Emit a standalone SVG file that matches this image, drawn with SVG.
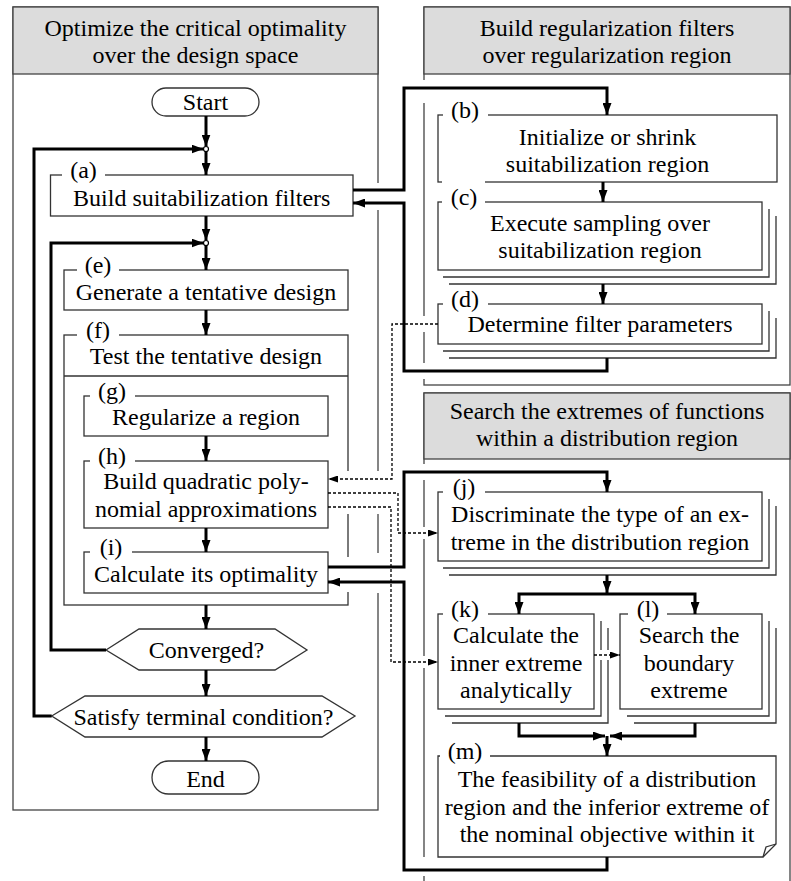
<svg xmlns="http://www.w3.org/2000/svg" width="791" height="881" viewBox="0 0 791 881">
<style>
.panel{fill:#fff;stroke:#444;stroke-width:1.3}
.hdr{fill:#dcdcdc;stroke:#444;stroke-width:1.3}
.box{fill:#fff;stroke:#333;stroke-width:1.3}
.stk{fill:none;stroke:#333;stroke-width:1.3}
.t{font-family:"Liberation Serif","Times New Roman",serif;font-size:24px;fill:#000;text-anchor:middle}
.bg{fill:#fff}
.thick{fill:none;stroke:#000;stroke-width:3}
.dot{fill:none;stroke:#000;stroke-width:1.3;stroke-dasharray:3 2}
.gap{stroke:#fff;stroke-width:4}
.jn{fill:#fff;stroke:#000;stroke-width:1.2}
</style>
<defs>
<marker id="ah" markerUnits="userSpaceOnUse" markerWidth="12" markerHeight="9" refX="12" refY="4.5" orient="auto"><path d="M0,0 L12,4.5 L0,9 Z" fill="#000"/></marker>
<marker id="ad" markerUnits="userSpaceOnUse" markerWidth="10" markerHeight="7" refX="10" refY="3.5" orient="auto"><path d="M0,0 L10,3.5 L0,7 Z" fill="#000"/></marker>
</defs>

<g id="panel-optimize">
<rect class="panel" x="13" y="7" width="365" height="803"/>
<rect class="hdr" x="13" y="7" width="365" height="67"/>
<text class="t" x="195.5" y="36">Optimize the critical optimality</text>
<text class="t" x="195.5" y="63">over the design space</text>
</g>
<g id="panel-regularization">
<rect class="panel" x="424" y="7" width="366" height="378"/>
<rect class="hdr" x="424" y="7" width="366" height="67"/>
<text class="t" x="607" y="36">Build regularization filters</text>
<text class="t" x="607" y="63">over regularization region</text>
</g>
<g id="panel-extremes">
<rect class="panel" x="424" y="393" width="366" height="520"/>
<rect class="hdr" x="424" y="393" width="366" height="66"/>
<text class="t" x="607" y="419">Search the extremes of functions</text>
<text class="t" x="607" y="446">within a distribution region</text>
</g>

<g id="start">
<rect class="box" x="152" y="88" width="107" height="28" rx="14"/>
<text class="t" x="205.5" y="110">Start</text>
</g>
<g id="node-a">
<rect class="box" x="50.5" y="175" width="302.5" height="41"/>
<rect class="bg" x="62" y="156" width="43" height="22"/>
<text class="t" x="83.5" y="177.5">(a)</text>
<text class="t" x="201.75" y="206">Build suitabilization filters</text>
</g>
<g id="node-e">
<rect class="box" x="64" y="270" width="284" height="40"/>
<rect class="bg" x="77" y="251" width="42" height="22"/>
<text class="t" x="98" y="272.5">(e)</text>
<text class="t" x="206" y="300">Generate a tentative design</text>
</g>
<g id="node-f">
<rect class="box" x="64" y="335" width="284" height="270"/>
<line class="stk" x1="64" y1="376" x2="348" y2="376"/>
<rect class="bg" x="77" y="316" width="42" height="22"/>
<text class="t" x="98" y="337.5">(f)</text>
<text class="t" x="206" y="364">Test the tentative design</text>
</g>
<g id="node-g">
<rect class="box" x="84" y="396" width="244" height="40"/>
<rect class="bg" x="90" y="377" width="45" height="22"/>
<text class="t" x="112" y="398.5">(g)</text>
<text class="t" x="206" y="425">Regularize a region</text>
</g>
<g id="node-h">
<rect class="box" x="84" y="461" width="244" height="67"/>
<rect class="bg" x="90" y="442" width="45" height="22"/>
<text class="t" x="112" y="463.5">(h)</text>
<text class="t" x="206" y="489">Build quadratic poly-</text>
<text class="t" x="206" y="516.5">nomial approximations</text>
</g>
<g id="node-i">
<rect class="box" x="84" y="552" width="244" height="41"/>
<rect class="bg" x="90" y="533" width="42" height="22"/>
<text class="t" x="111" y="554.5">(i)</text>
<text class="t" x="206" y="582">Calculate its optimality</text>
</g>
<g id="converged">
<polygon class="box" points="106,650 139,629 275,629 307,650 275,670 139,670"/>
<text class="t" x="206.5" y="658">Converged?</text>
</g>
<g id="terminal">
<polygon class="box" points="51.7,716 85,696 322,696 355,716 322,737 85,737"/>
<text class="t" x="203.4" y="725">Satisfy terminal condition?</text>
</g>
<g id="end">
<rect class="box" x="152" y="761" width="107" height="33" rx="16.5"/>
<text class="t" x="205.5" y="786.5">End</text>
</g>

<g id="node-b">
<rect class="box" x="438" y="115" width="339" height="67"/>
<rect class="bg" x="443" y="96" width="45" height="22"/>
<text class="t" x="465" y="117.5">(b)</text>
<text class="t" x="607.5" y="145">Initialize or shrink</text>
<text class="t" x="607.5" y="172">suitabilization region</text>
</g>
<g id="node-c">
<path class="stk" d="M449,284 H776 V216 M443,277 H769 V209"/>
<rect class="box" x="438" y="202" width="324" height="68"/>
<rect class="bg" x="442" y="179" width="43" height="26"/>
<text class="t" x="464" y="204.5">(c)</text>
<text class="t" x="600" y="231">Execute sampling over</text>
<text class="t" x="600" y="258">suitabilization region</text>
</g>
<g id="node-d">
<path class="stk" d="M449,358 H776 V318 M443,351 H769 V311"/>
<rect class="box" x="438" y="304" width="324" height="40"/>
<rect class="bg" x="443" y="285" width="45" height="22"/>
<text class="t" x="465" y="306.5">(d)</text>
<text class="t" x="600" y="332">Determine filter parameters</text>
</g>
<g id="node-j">
<path class="stk" d="M449,575 H776 V506 M443,568 H769 V499"/>
<rect class="box" x="438" y="492" width="324" height="69"/>
<rect class="bg" x="443" y="474" width="42" height="21"/>
<text class="t" x="464" y="494.5">(j)</text>
<text class="t" x="600" y="522">Discriminate the type of an ex-</text>
<text class="t" x="600" y="549.5">treme in the distribution region</text>
</g>
<g id="node-k">
<path class="stk" d="M452,723 H608 V628 M445,716 H601 V621"/>
<rect class="box" x="438" y="614" width="156" height="95"/>
<rect class="bg" x="443" y="595" width="45" height="22"/>
<text class="t" x="465" y="616.5">(k)</text>
<text class="t" x="516" y="643">Calculate the</text>
<text class="t" x="516" y="670.5">inner extreme</text>
<text class="t" x="516" y="698">analytically</text>
</g>
<g id="node-l">
<path class="stk" d="M634,723 H776 V628 M627,716 H769 V621"/>
<rect class="box" x="620" y="614" width="142" height="95"/>
<rect class="bg" x="628" y="595" width="39" height="22"/>
<text class="t" x="648" y="616.5">(l)</text>
<text class="t" x="689" y="643">Search the</text>
<text class="t" x="689" y="670.5">boundary</text>
<text class="t" x="689" y="698">extreme</text>
</g>
<g id="node-m">
<path class="box" d="M438,756 H776 V844 L763,857 H438 Z"/>
<path class="stk" d="M763,857 L766,847 L776,844"/>
<rect class="bg" x="440" y="737" width="50" height="22"/>
<text class="t" x="465" y="758.5">(m)</text>
<text class="t" x="607" y="787">The feasibility of a distribution</text>
<text class="t" x="607" y="814.5">region and the inferior extreme of</text>
<text class="t" x="607" y="842">the nominal objective within it</text>
</g>

<g id="connectors">
<g id="gaps">
<line class="gap" x1="378" y1="183" x2="378" y2="210"/>
<line class="gap" x1="378" y1="471" x2="378" y2="514"/>
<line class="gap" x1="378" y1="553" x2="378" y2="593"/>
<line class="gap" x1="348" y1="471" x2="348" y2="514"/>
<line class="gap" x1="348" y1="557" x2="348" y2="592"/>
<line class="gap" x1="424" y1="80" x2="424" y2="103"/>
<line class="gap" x1="424" y1="316" x2="424" y2="332"/>
<line class="gap" x1="424" y1="363" x2="424" y2="379"/>
<line class="gap" x1="424" y1="464" x2="424" y2="480"/>
<line class="gap" x1="424" y1="527" x2="424" y2="539"/>
<line class="gap" x1="424" y1="656" x2="424" y2="668"/>
<line class="gap" x1="424" y1="857" x2="424" y2="876"/>
<line class="gap" x1="601" y1="650" x2="601" y2="660"/>
<line class="gap" x1="608" y1="650" x2="608" y2="660"/>
</g>
<path class="dot" marker-end="url(#ad)" d="M438,324 H392 V479 H328"/>
<path class="dot" marker-end="url(#ad)" d="M328,493 H398 V533 H438"/>
<path class="dot" marker-end="url(#ad)" d="M328,507 H391 V662 H438"/>
<path class="dot" marker-end="url(#ad)" d="M594,655 H620"/>

<path class="thick" marker-end="url(#ah)" d="M206,116 V146.5"/>
<circle class="jn" cx="206" cy="149" r="2.5"/>
<path class="thick" marker-end="url(#ah)" d="M206,151.5 V175"/>
<path class="thick" marker-end="url(#ah)" d="M51.7,716 H34 V149 H203.5"/>
<path class="thick" marker-end="url(#ah)" d="M206,216 V240.5"/>
<circle class="jn" cx="206" cy="243" r="2.5"/>
<path class="thick" marker-end="url(#ah)" d="M206,245.5 V270"/>
<path class="thick" marker-end="url(#ah)" d="M106,650 H51 V243 H203.5"/>
<path class="thick" marker-end="url(#ah)" d="M206,310 V335"/>
<path class="thick" marker-end="url(#ah)" d="M206,436 V461"/>
<path class="thick" marker-end="url(#ah)" d="M206,528 V552"/>
<path class="thick" marker-end="url(#ah)" d="M206,605 V629"/>
<path class="thick" marker-end="url(#ah)" d="M206,670 V696"/>
<path class="thick" marker-end="url(#ah)" d="M206,737 V761"/>

<path class="thick" marker-end="url(#ah)" d="M353,190 H404 V88 H607 V115"/>
<path class="thick" marker-end="url(#ah)" d="M607,358 V371 H404 V203 H353"/>
<path class="thick" marker-end="url(#ah)" d="M603,182 V202"/>
<path class="thick" marker-end="url(#ah)" d="M603,284 V304"/>

<path class="thick" marker-end="url(#ah)" d="M328,567 H404 V472 H607 V492"/>
<path class="thick" marker-end="url(#ah)" d="M607,857 V870 H404 V582 H328"/>
<path class="thick" marker-end="url(#ah)" d="M607,575 V593"/>
<path class="thick" marker-end="url(#ah)" d="M607,594 H519 V614"/>
<path class="thick" marker-end="url(#ah)" d="M607,594 H695 V614"/>
<path class="thick" marker-end="url(#ah)" d="M519,723 V736 H605"/>
<path class="thick" marker-end="url(#ah)" d="M695,723 V736 H610"/>
<path class="thick" marker-end="url(#ah)" d="M607,736 V756"/>
</g>
</svg>
